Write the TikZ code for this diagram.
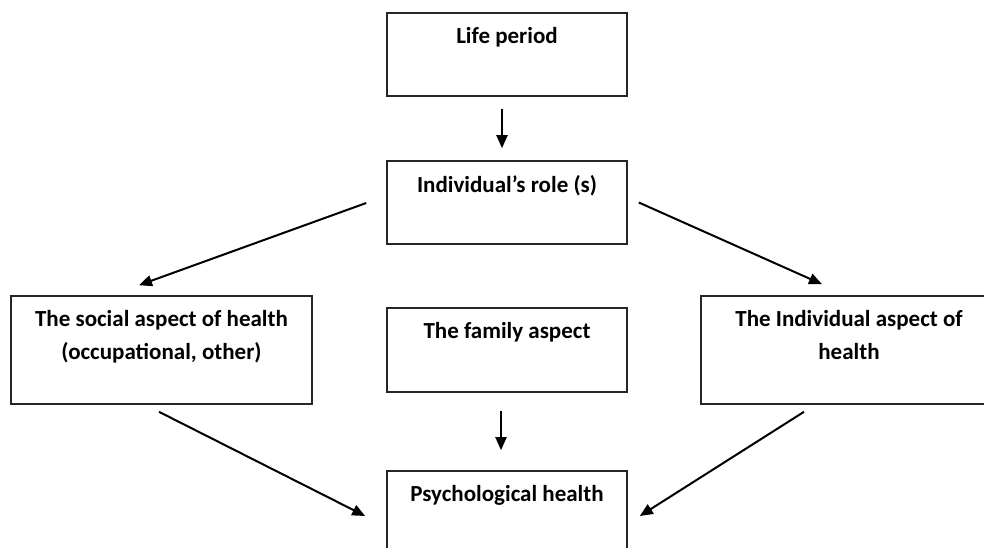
\documentclass[tikz,border=0pt]{standalone}
\usepackage{fontspec}
\setmainfont{Carlito}
\usetikzlibrary{arrows.meta}
\begin{document}
\begin{tikzpicture}[x=1pt,y=-1pt,>={Triangle[length=13pt,width=11pt]}]
        \tikzstyle{stage}=[rectangle,draw=black!85,line width=1.6pt,inner sep=0pt,minimum width=240pt,minimum height=83pt]
        \tikzstyle{caption}=[anchor=north,yshift=-15pt,inner sep=0pt,align=center,font={\fontsize{23}{33}\selectfont\bfseries}]
        \tikzstyle{edge}=[draw,->,line width=2pt]
       \useasboundingbox (0,0) rectangle (984,548);
       \clip (0,0) rectangle (984,548);
       \begin{scope}
         \node [stage,label={[caption]north:Life period}] (life) at (507,54.5) {};
         \node [stage,label={[caption]north:Individual’s role (s)}] (role) at (507,202.5) {};
         \node [stage,minimum width=301pt,minimum height=108pt,label={[caption]north:The social aspect of health\\(occupational, other)}] (social) at (161.5,350) {};
         \node [stage,minimum height=84pt,label={[caption]north:The family aspect}] (family) at (507,350) {};
         \node [stage,minimum width=296pt,minimum height=108pt,label={[caption]north:The Individual aspect of\\health}] (indiv) at (849,350) {};
         \node [stage,label={[caption]north:Psychological health}] (psych) at (507,512.5) {};
         \path[edge] ([shift={(-5,12)}]life.south) -- ([shift={(-5,-12)}]role.north);
         \path[edge] ([shift={(-20,0.5)}]role.west) -- ([shift={(-22.5,-10)}]social.north);
         \path[edge] ([shift={(11,0)}]role.east) -- ([shift={(-27,-11)}]indiv.north);
         \path[edge] ([shift={(-2.5,7)}]social.south) -- ([shift={(-21,3.5)}]psych.west);
         \path[edge] ([shift={(-6,18)}]family.south) -- ([shift={(-6,-20)}]psych.north);
         \path[edge] ([shift={(-45,7)}]indiv.south) -- ([shift={(12,3.5)}]psych.east);
        \end{scope}
      \end{tikzpicture}
\end{document}
